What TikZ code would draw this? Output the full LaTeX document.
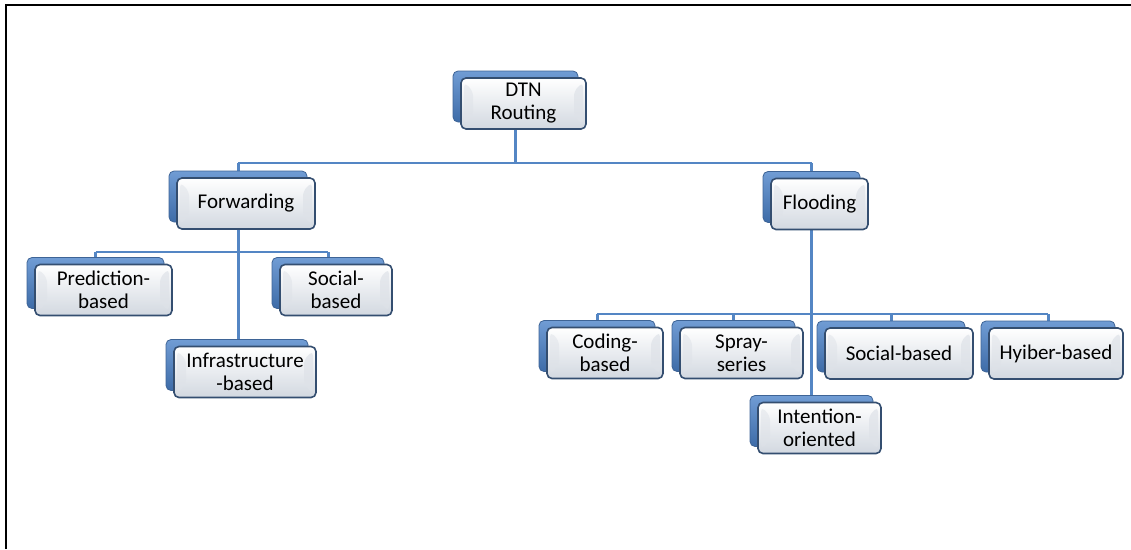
\documentclass[tikz,border=0pt]{standalone}
\usepackage{fontspec}
\setmainfont{Carlito}
\pgfdeclarelayer{bg}
\pgfsetlayers{bg,main}
\definecolor{connblue}{RGB}{84,134,196}
\definecolor{backlight}{RGB}{112,156,212}
\definecolor{backdark}{RGB}{62,108,168}
\definecolor{backedge}{RGB}{62,100,150}
\definecolor{frontedge}{RGB}{52,78,112}
\definecolor{fronttop}{RGB}{255,255,255}
\definecolor{frontmid}{RGB}{244,246,248}
\definecolor{frontbot}{RGB}{210,216,224}
\definecolor{bevel}{RGB}{222,226,232}
\tikzset{
  backbox/.style={rounded corners=5pt, draw=backedge, line width=0.8pt,
    top color=backlight, bottom color=backdark, minimum height=51pt,
    inner sep=0pt},
  frontbox/.style={rounded corners=5pt, draw=frontedge, line width=1.6pt,
    top color=fronttop, middle color=frontmid, bottom color=frontbot,
    minimum height=51pt, inner sep=2pt, align=center, text=black,
    font=\fontsize{21}{23}\selectfont,
    % soft bevel on the left and right inner edges
    path picture={
      \fill[bevel, opacity=0.7]
        (path picture bounding box.north east) ++(-3pt,-4pt) -- ++(-9pt,-9pt)
        -- ($(path picture bounding box.south east)+(-12pt,13pt)$)
        -- ++(9pt,-9pt) -- cycle;
      \fill[bevel, opacity=0.5]
        (path picture bounding box.north west) ++(3pt,-4pt) -- ++(9pt,-9pt)
        -- ($(path picture bounding box.south west)+(12pt,13pt)$)
        -- ++(-9pt,-9pt) -- cycle;
    }},
  conn/.style={draw=connblue, line width=3pt},
  busline/.style={draw=connblue, line width=2.4pt},
}
% a hierarchy box: name, centre x, centre y, width, label
\newcommand\tbox[5]{%
  \node[backbox, minimum width=#4pt] (#1b) at (#2-8,#3-7) {};
  \node[frontbox, minimum width=#4pt] (#1) at (#2,#3) {#5};}
\usetikzlibrary{calc}
\begin{document}
\begin{tikzpicture}[x=1pt,y=-1pt]
\useasboundingbox (0,0) rectangle (1131,549);
% frame
\draw[line width=2pt] (6,549) -- (6,5) -- (1131,5);

% bus levels
\coordinate (lv1) at (0,163);
\coordinate (lv2) at (0,252);
\coordinate (lv3) at (0,314);

\tbox{dtn}{523.5}{103.5}{125}{DTN\\Routing}
\tbox{fwd}{246}{203.5}{138}{Forwarding}
\tbox{fld}{819.5}{204}{97}{Flooding}
\tbox{pred}{103.5}{290}{137}{Prediction-\\based}
\tbox{soca}{336}{290}{112}{Social-\\based}
\tbox{inf}{245}{372}{142}{Infrastructure\\-based}
\tbox{cod}{605}{353}{116}{Coding-\\based}
\tbox{spr}{741.5}{353}{123}{Spray-\\series}
\tbox{socb}{899}{353.5}{148}{Social-based}
\tbox{hyb}{1056}{353.5}{134}{Hyiber-based}
\tbox{int}{819.5}{428}{123}{Intention-\\oriented}

\begin{pgfonlayer}{bg}
  % root to first level
  \draw[conn] (dtnb.center) -- (dtnb.center |- lv1);
  \draw[busline] (fwdb.center |- lv1) -- (fldb.center |- lv1);
  \draw[conn] (fwdb.center |- lv1) -- (fwdb.center);
  \draw[conn] (fldb.center |- lv1) -- (fldb.center);
  % forwarding subtree
  \draw[conn] (fwdb.center) -- (fwdb.center |- infb.center);
  \draw[busline] (predb.center |- lv2) -- (socab.center |- lv2);
  \draw[conn] (predb.center |- lv2) -- (predb.center);
  \draw[conn] (socab.center |- lv2) -- (socab.center);
  % flooding subtree
  \draw[conn] (fldb.center) -- (fldb.center |- intb.center);
  \draw[busline] (codb.center |- lv3) -- (hybb.center |- lv3);
  \draw[conn] (codb.center |- lv3) -- (codb.center);
  \draw[conn] (sprb.center |- lv3) -- (sprb.center);
  \draw[conn] (socbb.center |- lv3) -- (socbb.center);
  \draw[conn] (hybb.center |- lv3) -- (hybb.center);
\end{pgfonlayer}
\end{tikzpicture}
\end{document}
